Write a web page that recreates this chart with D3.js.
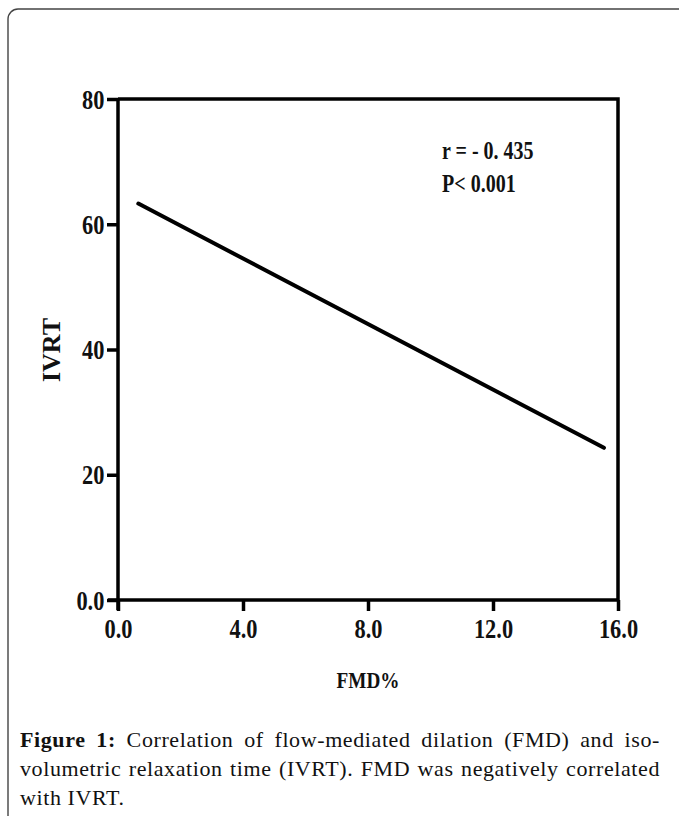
<!DOCTYPE html>
<html>
<head>
<meta charset="utf-8">
<script src="https://cdn.jsdelivr.net/npm/d3@7"></script>
<style>
  body { margin: 0; background: #fff; }
  #wrap { position: relative; width: 679px; height: 816px; overflow: hidden; }
  .caption { position: absolute; left: 20px; width: 640px; font-family: "Liberation Serif", serif;
             font-size: 22px; letter-spacing: 0.6px; color: #111; white-space: nowrap; }
  .just { text-align: justify; text-align-last: justify; white-space: normal; }
  .axis text { font-family: "Liberation Serif", serif; font-weight: bold; font-size: 28px; fill: #111; }
</style>
</head>
<body>
<div id="wrap">
  <div id="chart"></div>
  <div class="caption just" style="top:727px"><b>Figure 1:</b> Correlation of flow-mediated dilation (FMD) and iso-</div>
  <div class="caption just" style="top:756px">volumetric relaxation time (IVRT). FMD was negatively correlated</div>
  <div class="caption" style="top:785px">with IVRT.</div>
</div>
<script>
// values
var lineX = [0.65, 15.55],
    lineY = [63.3, 24.3],
    xTicks = [0, 4, 8, 12, 16],
    yTicks = [0, 20, 40, 60, 80],
    xLabels = ["0.0", "4.0", "8.0", "12.0", "16.0"],
    yLabels = ["0.0", "20", "40", "60", "80"],
    statsText = ["r = - 0. 435", "P< 0.001"];

var W = 679, H = 816,
    margin = {left: 118, top: 99, right: 61, bottom: 216},
    width = W - margin.left - margin.right,
    height = H - margin.top - margin.bottom,
    sx = 0.8;

var svg = d3.select("#chart").append("svg")
    .attr("width", W)
    .attr("height", H);

// outer rounded box (runs off the right and bottom)
svg.append("rect")
    .attr("x", 8).attr("y", 9)
    .attr("width", 700).attr("height", 840)
    .attr("rx", 10)
    .attr("fill", "none")
    .attr("stroke", "#444")
    .attr("stroke-width", 1.4);

var x = d3.scaleLinear().domain([0, 16]).range([0, width]),
    y = d3.scaleLinear().domain([0, 80]).range([height, 0]);

var focus = svg.append("g")
    .attr("transform", "translate(" + margin.left + "," + margin.top + ")");

// frame top + right
focus.append("path")
    .attr("d", "M0,0H" + width + "V" + height)
    .attr("fill", "none")
    .attr("stroke", "#000")
    .attr("stroke-width", 3.5);

var xAxis = d3.axisBottom(x)
    .tickValues(xTicks)
    .tickSize(11)
    .tickPadding(10)
    .tickFormat(function (d, i) { return xLabels[i]; });

var yAxis = d3.axisLeft(y)
    .tickValues(yTicks)
    .tickSize(11)
    .tickPadding(6)
    .tickFormat(function (d, i) { return yLabels[i]; });

var gx = focus.append("g")
    .attr("class", "x axis")
    .attr("transform", "translate(0," + height + ")")
    .call(xAxis);
var gy = focus.append("g")
    .attr("class", "y axis")
    .call(yAxis);

[gx, gy].forEach(function (g) {
  g.select(".domain").attr("stroke-width", 3.5).attr("d", g === gx ? "M-10,0H" + width : "M0," + (height + 10) + "V0");
  g.selectAll(".tick line").attr("stroke-width", 3.5);
});
gx.selectAll(".tick text").attr("transform", "scale(" + sx + ",1)").attr("dy", "0.62em");
gy.selectAll(".tick text").attr("transform", "scale(" + sx + ",1)").attr("dy", "0.33em");

// fit line
var line = d3.line()
    .x(function (d, i) { return x(lineX[i]); })
    .y(function (d, i) { return y(lineY[i]); });
focus.append("path")
    .datum(lineX)
    .attr("d", line)
    .attr("fill", "none")
    .attr("stroke", "#000")
    .attr("stroke-width", 4)
    .attr("stroke-linecap", "round");

// stats
focus.selectAll(".stat")
    .data(statsText)
  .enter().append("text")
    .attr("class", "stat")
    .attr("transform", function (d, i) { return "translate(" + x(10.37) + "," + (y(70.4) + i * 33) + ") scale(0.8,1)"; })
    .style("font-family", "Liberation Serif, serif")
    .style("font-weight", "bold")
    .style("font-size", "25px")
    .attr("fill", "#111")
    .text(function (d) { return d; });

// axis titles
svg.append("text")
    .attr("transform", "translate(" + (margin.left + width / 2) + ",688) scale(0.8,1)")
    .attr("text-anchor", "middle")
    .style("font-family", "Liberation Serif, serif")
    .style("font-weight", "bold")
    .style("font-size", "24px")
    .attr("fill", "#111")
    .text("FMD%");

svg.append("text")
    .attr("transform", "translate(60,350) rotate(-90)")
    .attr("text-anchor", "middle")
    .style("font-family", "Liberation Serif, serif")
    .style("font-weight", "bold")
    .style("font-size", "26px")
    .attr("fill", "#111")
    .text("IVRT");
</script>
</body>
</html>
